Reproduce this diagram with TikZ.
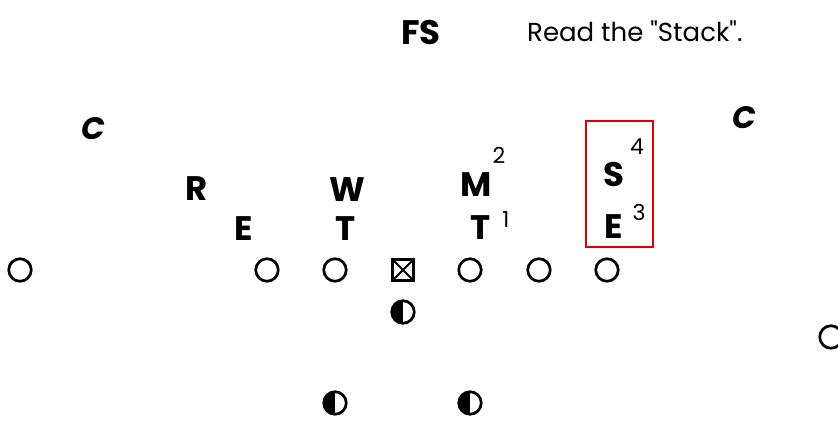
\documentclass[tikz,border=0pt]{standalone}
\usepackage{fontspec}
\setmainfont{Poppins}[Ligatures=TeXOff]
\begin{document}
\begin{tikzpicture}[x=1pt,y=-1pt]
	\tikzset{
		player/.style={circle, draw, line width=2.7pt, minimum size=22.5pt, inner sep=0pt},
		back/.style={player, path picture={\fill (path picture bounding box.north) rectangle (path picture bounding box.south west);}},
		snapbox/.style={rectangle, draw, line width=2.2pt, minimum size=21pt, inner sep=0pt,
			path picture={\draw[line width=1.8pt] (path picture bounding box.north west) -- (path picture bounding box.south east)
				(path picture bounding box.north east) -- (path picture bounding box.south west);}},
		defender/.style={font=\fontsize{34}{34}\selectfont\bfseries, inner sep=0pt},
		gap/.style={font=\fontsize{22}{22}\selectfont, inner sep=0pt}
	}
	\useasboundingbox (0,0) rectangle (838,421);
	%% Offense ------
	\node[player] (wl) at (20,270) {};
	\node[player] (lt) at (267,270) {};
	\node[player] (lg) at (335,270) {};
	\node[snapbox] (c) at (403,270) {};
	\node[player] (rg) at (470,270) {};
	\node[player] (rt) at (539,270) {};
	\node[player] (te) at (607,270) {};
	\node[player] (wr) at (831,337) {};
	\node[back] (qb) at (403,312) {};
	\node[back] (hbl) at (335,403) {};
	\node[back] (hbr) at (470,403) {};
	%% Defense ------
	\node[defender] (fs) at (421,33) {FS};
	\node[defender, font=\fontsize{31}{31}\selectfont\bfseries\itshape] (cl) at (93,129) {C};
	\node[defender, font=\fontsize{31}{31}\selectfont\bfseries\itshape] (cr) at (744,118) {C};
	\node[defender] (r) at (197,189) {R};
	\node[defender] (w) at (347,190) {W};
	\node[defender] (m) at (476,185) {M};
	\node[defender] (s) at (614,175) {S};
	\node[defender] (el) at (244,229) {E};
	\node[defender] (tl) at (346,229) {T};
	\node[defender] (tr) at (481,228) {T};
	\node[defender] (er) at (614,227) {E};
	%% Gap numbers ---------
	\node[gap] (g1) at (506,220) {1};
	\node[gap] (g2) at (499,155) {2};
	\node[gap] (g3) at (639,212) {3};
	\node[gap] (g4) at (637,147) {4};
	%% Stack ---------
	\draw[red!85!black, line width=1.5pt] (586,121) rectangle (653,247);
	\node[gap, font=\fontsize{26}{26}\selectfont, anchor=west] (note) at (527,31) {Read the "Stack".};
\end{tikzpicture}
\end{document}
